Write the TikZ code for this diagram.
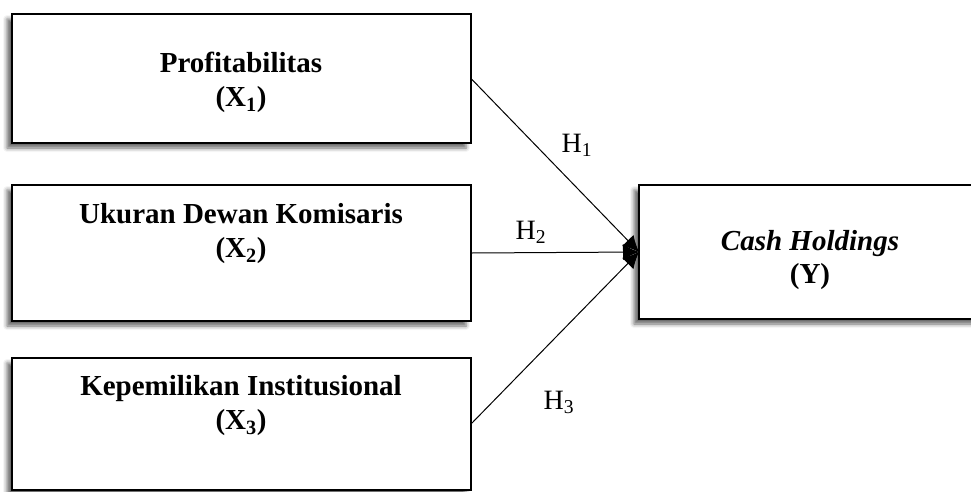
\documentclass[tikz,border=0pt]{standalone}
\usepackage{fontspec}
\setmainfont{Liberation Serif}
\usetikzlibrary{arrows.meta,shadows.blur}
\begin{document}
\begin{tikzpicture}[x=1pt,y=-1pt,
  varbox/.style={draw=black,line width=2.6pt,fill=white,rectangle,inner sep=0pt,outer sep=0pt,
    blur shadow={shadow xshift=-5pt,shadow yshift=-5pt,shadow blur radius=4pt,shadow opacity=60}},
  boxtext/.style={anchor=north,inner sep=0pt,align=center,font=\fontsize{29}{36}\selectfont\bfseries},
  hlabel/.style={inner sep=0pt,anchor=base,font=\fontsize{28}{34}\selectfont},
  conn/.style={line width=1pt,-{Latex[length=16pt,width=16pt]}}]
\useasboundingbox (0,0) rectangle (971,491);
\node[varbox,minimum width=459pt,minimum height=129pt] (b1) at (241.5,78.5) {};
\node[varbox,minimum width=459pt,minimum height=136pt] (b2) at (241.5,253) {};
\node[varbox,minimum width=459pt,minimum height=132pt] (b3) at (241.5,424) {};
\node[varbox,minimum width=346pt,minimum height=134pt] (by) at (812,252) {};
\node[boxtext,font=\fontsize{29}{34}\selectfont\bfseries] (t1) at (241,52) {Profitabilitas\\(X\textsubscript{1})};
\node[boxtext,font=\fontsize{29}{34.5}\selectfont\bfseries] (t2) at (241,203) {Ukuran Dewan Komisaris\\(X\textsubscript{2})};
\node[boxtext,font=\fontsize{29}{34.5}\selectfont\bfseries] (t3) at (241,375) {Kepemilikan Institusional\\(X\textsubscript{3})};
\node[boxtext,font=\fontsize{29}{33}\selectfont\bfseries] (ty) at (810,230) {\textit{Cash Holdings}\\(Y)};
\draw[conn] (b1.east) -- (by.west);
\draw[conn] (b2.east) -- (by.west);
\draw[conn] (b3.east) -- (by.west);
\node[hlabel] (h1) at (577,152) {H\textsubscript{1}};
\node[hlabel] (h2) at (531,239) {H\textsubscript{2}};
\node[hlabel] (h3) at (559,409) {H\textsubscript{3}};
\end{tikzpicture}
\end{document}
